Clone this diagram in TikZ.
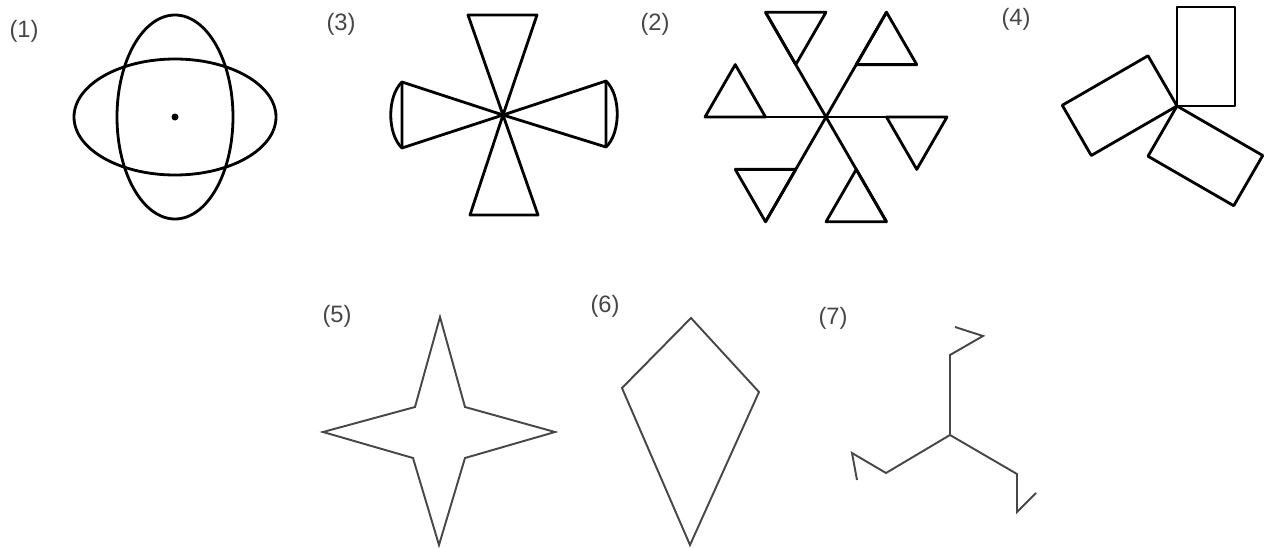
\documentclass[tikz,border=0pt]{standalone}
\usepackage{fontspec}
\setsansfont{Liberation Sans}
\usepackage{tikz}
\usetikzlibrary{calc}

\begin{document}
\begin{tikzpicture}[
    x=0.02cm, y=-0.02cm,
    bold/.style={line width=1.6pt, line join=round, draw=black},
    thin/.style={line width=1.1pt, line join=miter, draw=black!72},
    lbl/.style={font=\sffamily\fontsize{13.5}{15}\selectfont, text=black!72, inner sep=0pt}
]
\useasboundingbox (0,0) rectangle (1269,548);

% (1) two ellipses
\node[lbl] (l1) at (24,31) {(1)};
\coordinate (c1) at (175,117);
\draw[bold] (c1) ellipse [x radius=58, y radius=102];
\draw[bold] (c1) ellipse [x radius=101, y radius=58];
\fill (c1) circle [radius=3.5];

% (3) four cones
\node[lbl] (l3) at (341,24) {(3)};
\coordinate (c3) at (503,115);
\draw[bold] (c3) -- (468,15) -- (537,15) -- cycle;
\draw[bold] (c3) -- (470,215) -- (538,215) -- cycle;
\draw[bold] (c3) -- (402,82) -- (402,148) -- cycle;
\draw[bold] (402,82) .. controls (387,96) and (387,134) .. (402,148);
\draw[bold] (c3) -- (606,81) -- (606,147) -- cycle;
\draw[bold] (606,81) .. controls (621,95) and (621,133) .. (606,147);

% (2) six arms with triangles
\node[lbl] (l2) at (655,24) {(2)};
\coordinate (c2) at (826,117);
\begin{scope}[shift={(c2)}]
\foreach \a in {0,60,...,300} {
    \draw[bold] (0,0) -- (\a:121);
    \draw[bold] (\a:60.5) -- (\a:121) -- ($(\a:60.5)+(\a+60:60.5)$) -- cycle;
}
\end{scope}

% (4) three rectangles
\node[lbl] (l4) at (1016,19) {(4)};
\coordinate (c4) at (1177,106);
\foreach \r in {0,120,240}
    \draw[bold, rotate around={-\r:(c4)}] (c4) rectangle ++(58,-99);

% (5) star
\node[lbl] (l5) at (337,316) {(5)};
\draw[thin] (440,317) -- (465,407) -- (555,432) -- (465,458) -- (439,545)
    -- (413,458) -- (323,432) -- (415,407) -- cycle;

% (6) kite
\node[lbl] (l6) at (605,306) {(6)};
\draw[thin] (691,318) -- (759,392) -- (690,545) -- (622,388) -- cycle;

% (7) three hooked arms
\node[lbl] (l7) at (833,318) {(7)};
\coordinate (c7) at (950,435);
\draw[thin] (c7) -- (950,355) -- (983,336) -- (955,327);
\draw[thin] (c7) -- (886,473) -- (852,453) -- (857,480);
\draw[thin] (c7) -- (1017,474) -- (1017,512) -- (1036,493);
\end{tikzpicture}
\end{document}
